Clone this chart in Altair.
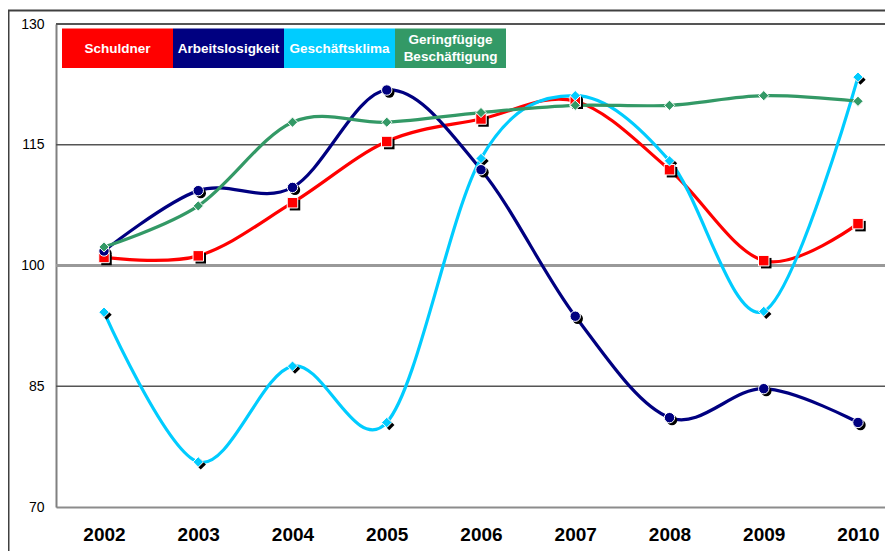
import altair as alt
import pandas as pd

years = ["2002", "2003", "2004", "2005", "2006", "2007", "2008", "2009", "2010"]
series = ["Schuldner", "Arbeitslosigkeit", "Geschäftsklima", "Geringfügige Beschäftigung"]
legend_labels = ["Schuldner", "Arbeitslosigkeit", "Geschäftsklima", "Geringfügige\nBeschäftigung"]
colors = ["#FF0000", "#000080", "#00CCFF", "#339966"]

schuldner = [101.0, 101.2, 107.8, 115.4, 118.2, 120.4, 111.9, 100.6, 105.2]
arbeit = [101.8, 109.3, 109.7, 121.8, 111.9, 93.7, 81.1, 84.7, 80.5]
klima = [94.2, 75.6, 87.5, 80.5, 113.3, 121.1, 113.0, 94.3, 123.4]
gering = [102.3, 107.4, 117.8, 117.8, 119.0, 119.9, 119.9, 121.1, 120.4]

y_ticks = [70, 85, 100, 115, 130]
thin_grid = [85, 115]
thick_grid = [100]
top_line = [130]

rows = []
for name, vals in zip(series, [schuldner, arbeit, klima, gering]):
    for yr, v in zip(years, vals):
        rows.append({"year": yr, "series": name, "value": v})
df = pd.DataFrame(rows)

FONT = "Liberation Sans, Arial, sans-serif"

x_enc = alt.X("year:O", sort=years,
              scale=alt.Scale(type="point", padding=0.398, align=0.64),
              axis=alt.Axis(labelAngle=0, labelFontSize=19, labelFontWeight="bold",
                            labelFont=FONT, labelColor="black", ticks=False,
                            domainColor="#8c8c8c", domainWidth=2, labelPadding=18,
                            title=None, grid=False))
y_enc = alt.Y("value:Q",
              scale=alt.Scale(domain=[70, 130], nice=False, zero=False),
              axis=alt.Axis(values=y_ticks, grid=False, ticks=False, labelPadding=12,
                            labelFontSize=14, labelFont=FONT, labelColor="black",
                            domainColor="#808080", domainWidth=2, title=None))
color_enc = alt.Color("series:N", scale=alt.Scale(domain=series, range=colors), legend=None)

one = pd.DataFrame({"a": [0]})

border = alt.Chart(one).mark_rect(fill="transparent", stroke="#404040", strokeWidth=2, clip=False).encode(
    x=alt.value(-47.5), x2=alt.value(900), y=alt.value(-13.5), y2=alt.value(600))

grid_thin = alt.Chart(pd.DataFrame({"v": thin_grid})).mark_rule(color="#555555", strokeWidth=1.3).encode(
    y=alt.Y("v:Q"))
grid_thick = alt.Chart(pd.DataFrame({"v": thick_grid})).mark_rule(color="#999999", strokeWidth=3).encode(
    y=alt.Y("v:Q"))
grid_top = alt.Chart(pd.DataFrame({"v": top_line})).mark_rule(color="#555555", strokeWidth=2).encode(
    y=alt.Y("v:Q"))

base = alt.Chart(df)
lines = base.mark_line(interpolate="cardinal", strokeWidth=3.2).encode(
    x=x_enc, y=y_enc, color=color_enc, detail="series:N")

shape_scale = alt.Scale(domain=series, range=["square", "circle", "diamond", "diamond"])
size_scale = alt.Scale(domain=series, range=[110, 105, 81, 55])

shadow_df = df[df["series"] != series[3]]
shadows = alt.Chart(shadow_df).mark_point(filled=True, color="black", opacity=1, xOffset=2.5, yOffset=2.5).encode(
    x=alt.X("year:O", sort=years), y="value:Q",
    shape=alt.Shape("series:N", scale=shape_scale, legend=None),
    size=alt.Size("series:N", scale=size_scale, legend=None))

points = base.mark_point(filled=True, opacity=1, stroke="white", strokeWidth=1).encode(
    x=alt.X("year:O", sort=years), y="value:Q",
    fill=alt.Fill("series:N", scale=alt.Scale(domain=series, range=colors), legend=None),
    shape=alt.Shape("series:N", scale=shape_scale, legend=None),
    size=alt.Size("series:N", scale=size_scale, legend=None))

main = alt.layer(border, grid_thin, grid_thick, grid_top, lines, shadows, points)

leg_df = pd.DataFrame({"series": series, "label": legend_labels})
leg_scale = alt.Scale(domain=series, range=[6, 450], paddingInner=0, paddingOuter=0)
leg_rect = alt.Chart(leg_df).mark_rect().encode(
    x=alt.X("series:N", sort=series, scale=leg_scale, axis=None),
    y=alt.value(4.5), y2=alt.value(44),
    color=alt.Color("series:N", scale=alt.Scale(domain=series, range=colors), legend=None))
text_props = dict(color="white", fontWeight="bold", fontSize=13.5, font=FONT,
                  lineBreak="\n", lineHeight=17, baseline="middle", align="center")
leg_x_text = alt.X("series:N", sort=series, scale=leg_scale, axis=None, bandPosition=0.5)
leg_text1 = alt.Chart(leg_df).transform_filter(
    "indexof(datum.label, '\\n') < 0").mark_text(**text_props).encode(
    x=leg_x_text, y=alt.value(24.5), text="label:N")
leg_text2 = alt.Chart(leg_df).transform_filter(
    "indexof(datum.label, '\\n') >= 0").mark_text(**text_props).encode(
    x=leg_x_text, y=alt.value(16), text="label:N")
legend = alt.layer(leg_rect, leg_text1, leg_text2)

chart = alt.layer(main, legend).resolve_scale(x="independent", color="independent").properties(
    width=829, height=483,
    autosize=alt.AutoSizeParams(type="none"),
    padding={"left": 48, "top": 16, "right": 0, "bottom": 44},
).configure_view(stroke=None).configure(background="white")

chart.save("out.html", embed_options={"renderer": "svg", "actions": False})
